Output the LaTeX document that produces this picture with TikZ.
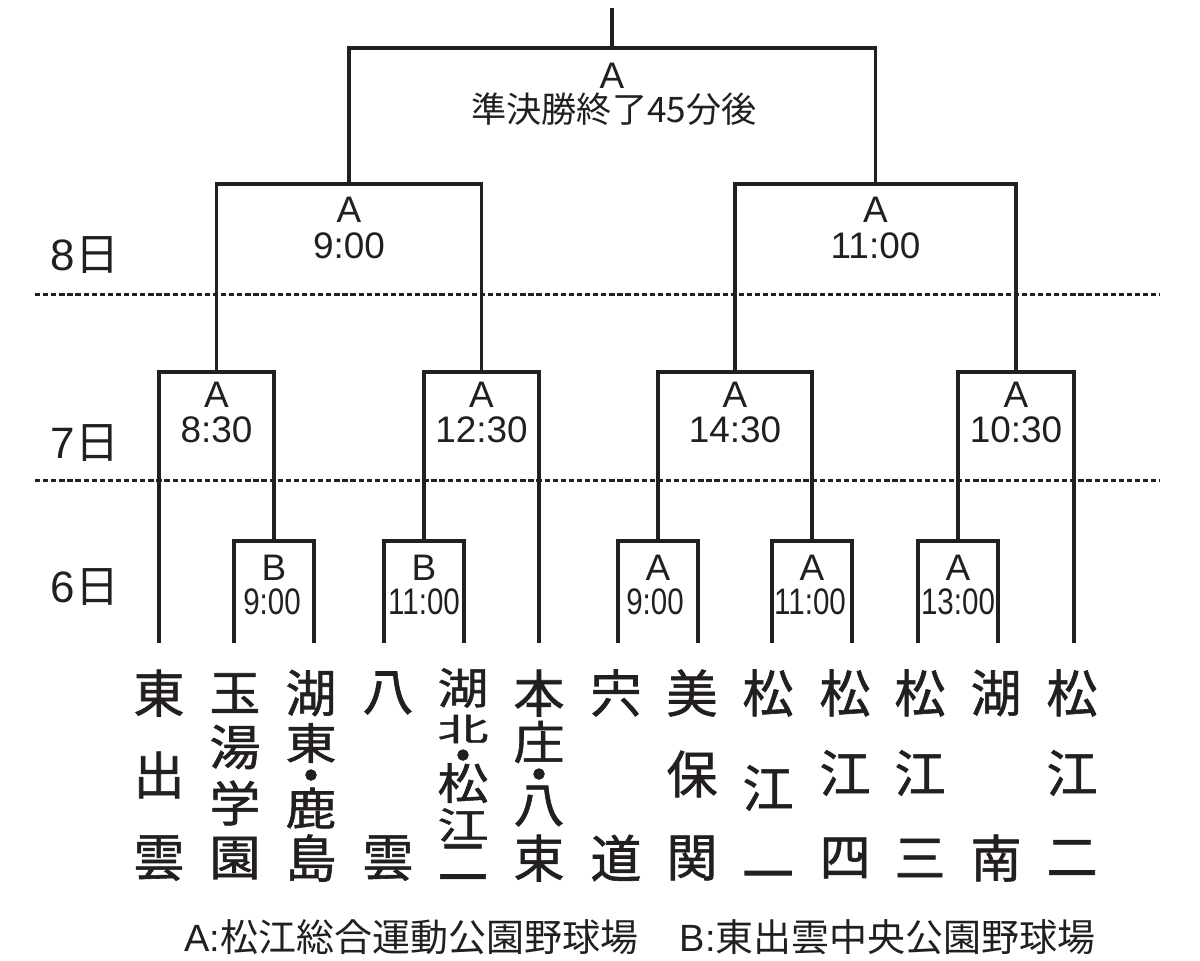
\documentclass[tikz,border=0pt]{standalone}
\usepackage{fontspec}
\setmainfont{Liberation Sans}
\newfontfamily\jp{Noto Sans CJK JP}
\newfontfamily\jpb[FakeBold=1.2]{Noto Sans CJK JP}
\usepackage{graphicx}
\usetikzlibrary{calc}
\definecolor{ink}{HTML}{231F20}

\begin{document}
\begin{tikzpicture}[x=0.01cm, y=-0.01cm, line width=0.9pt, color=ink,
  lbl/.style={anchor=base, inner sep=0pt, font=\fontsize{10.5}{10.5}\selectfont},
  team/.style={inner sep=0pt, font=\jpb\fontsize{14.5}{14.5}\selectfont},
  day/.style={inner sep=0pt, font=\fontsize{12.5}{12.5}\selectfont},
  daysep/.style={line width=0.85pt, dash pattern=on 1.5pt off 0.8pt}]
\useasboundingbox (0,0) rectangle (1200,960);
%\draw (0,0) rectangle (1200,960);

% feet of the lines
\coordinate (f1) at (159,643);
\coordinate (f2) at (234,643);
\coordinate (f3) at (314,643);
\coordinate (f4) at (384,643);
\coordinate (f5) at (464,643);
\coordinate (f6) at (539,643);
\coordinate (f7) at (618,643);
\coordinate (f8) at (698,643);
\coordinate (f9) at (772,643);
\coordinate (f10) at (852,643);
\coordinate (f11) at (918,643);
\coordinate (f12) at (998,643);
\coordinate (f13) at (1074,643);

% 6th
\coordinate (b1) at (274,541);
\coordinate (b2) at (424,541);
\coordinate (a1) at (658,541);
\coordinate (a2) at (812,541);
\coordinate (a3) at (958,541);
% 7th
\coordinate (q1) at (216.5,372);
\coordinate (q2) at (481.5,372);
\coordinate (q3) at (735,372);
\coordinate (q4) at (1016,372);
% 8th
\coordinate (s1) at (349,184);
\coordinate (s2) at (875.5,184);
\coordinate (fin) at (612,48);
\coordinate (top) at (612,8);

\draw (f2) |- (b1) -| (f3);
\draw (f4) |- (b2) -| (f5);
\draw (f7) |- (a1) -| (f8);
\draw (f9) |- (a2) -| (f10);
\draw (f11) |- (a3) -| (f12);

\draw (f1) |- (q1) -| (b1);
\draw (b2) |- (q2) -| (f6);
\draw (a1) |- (q3) -| (a2);
\draw (a3) |- (q4) -| (f13);

\draw (q1) |- (s1) -| (q2);
\draw (q3) |- (s2) -| (q4);
\draw (s1) |- (fin) -| (s2);
\draw (fin) -- (top);

\draw [daysep] (35,294) -- (1160,294);
\draw [daysep] (35,480) -- (1160,480);

\node (d8) [day] at (85,255) {8{\jp 日}};
\node (d7) [day] at (85,443) {7{\jp 日}};
\node (d6) [day] at (85,587) {6{\jp 日}};

\node (finv) [lbl] at ($(fin) + (0,40)$) {A};
\node (fint) [inner sep=0pt, font=\jp\fontsize{10}{10}\selectfont] at ($(fin) + (2,61)$) {準決勝終了45分後};

\node (s1v) [lbl] at ($(s1) + (0,38)$) {A};
\node (s1t) [lbl] at ($(s1) + (0,74)$) {9:00};
\node (s2v) [lbl] at ($(s2) + (0,38)$) {A};
\node (s2t) [lbl] at ($(s2) + (0,74)$) {11:00};

\node (q1v) [lbl] at ($(q1) + (0,35)$) {A};
\node (q1t) [lbl] at ($(q1) + (0,70)$) {8:30};
\node (q2v) [lbl] at ($(q2) + (0,35)$) {A};
\node (q2t) [lbl] at ($(q2) + (0,70)$) {12:30};
\node (q3v) [lbl] at ($(q3) + (0,35)$) {A};
\node (q3t) [lbl] at ($(q3) + (0,70)$) {14:30};
\node (q4v) [lbl] at ($(q4) + (0,35)$) {A};
\node (q4t) [lbl] at ($(q4) + (0,70)$) {10:30};

\node (b1v) [lbl] at ($(b1) + (0,39)$) {B};
\node (b1t) [lbl] at ($(b1) + (-2,73)$) {\scalebox{0.8}[1]{9:00}};
\node (b2v) [lbl] at ($(b2) + (0,39)$) {B};
\node (b2t) [lbl] at ($(b2) + (0,73)$) {\scalebox{0.8}[1]{11:00}};
\node (a1v) [lbl] at ($(a1) + (0,39)$) {A};
\node (a1t) [lbl] at ($(a1) + (-3,73)$) {\scalebox{0.8}[1]{9:00}};
\node (a2v) [lbl] at ($(a2) + (0,39)$) {A};
\node (a2t) [lbl] at ($(a2) + (-2,73)$) {\scalebox{0.8}[1]{11:00}};
\node (a3v) [lbl] at ($(a3) + (0,39)$) {A};
\node (a3t) [lbl] at ($(a3) + (0,73)$) {\scalebox{0.8}[1]{13:00}};

% teams
\foreach \c/\y/\s [count=\i] in {東/693/1, 出/775/1, 雲/858/1}
  \node (t1-\i) [team] at (159,\y) {\scalebox{1}[\s]{\c}};
\foreach \c/\y/\s [count=\i] in {玉/693/.95, 湯/747/.95, 学/803/.95, 園/858/.95}
  \node (t2-\i) [team] at (235,\y) {\scalebox{1}[\s]{\c}};
\foreach \c/\y/\s [count=\i] in {湖/693/1, 東/743/.85, ・/782/1, 鹿/808/.87, 島/858/1}
  \node (t3-\i) [team] at (311,\y) {\scalebox{1}[\s]{\c}};
\foreach \c/\y/\s [count=\i] in {八/693/1, 雲/858/1}
  \node (t4-\i) [team] at (388,\y) {\scalebox{1}[\s]{\c}};
\foreach \c/\y/\s [count=\i] in {湖/688/.85, 北/729/.62, ・/762/1, 松/783/.85, 江/825/.73, 二/862/1}
  \node (t5-\i) [team] at (463,\y) {\scalebox{1}[\s]{\c}};
\foreach \c/\y/\s [count=\i] in {本/693/1, 庄/742/.9, ・/781/1, 八/806/.95, 束/858/1}
  \node (t6-\i) [team] at (539,\y) {\scalebox{1}[\s]{\c}};
\foreach \c/\y/\s [count=\i] in {宍/693/1, 道/858/1}
  \node (t7-\i) [team] at (616,\y) {\scalebox{1}[\s]{\c}};
\foreach \c/\y/\s [count=\i] in {美/693/1, 保/774/1, 関/858/1}
  \node (t8-\i) [team] at (692,\y) {\scalebox{1}[\s]{\c}};
\foreach \c/\y/\s [count=\i] in {松/693/1, 江/788/1, 一/882/1}
  \node (t9-\i) [team] at (768,\y) {\scalebox{1}[\s]{\c}};
\foreach \c/\y/\s [count=\i] in {松/693/1, 江/773/1, 四/858/1}
  \node (t10-\i) [team] at (845,\y) {\scalebox{1}[\s]{\c}};
\foreach \c/\y/\s [count=\i] in {松/693/1, 江/773/1, 三/858/1}
  \node (t11-\i) [team] at (920,\y) {\scalebox{1}[\s]{\c}};
\foreach \c/\y/\s [count=\i] in {湖/693/1, 南/858/1}
  \node (t12-\i) [team] at (996,\y) {\scalebox{1}[\s]{\c}};
\foreach \c/\y/\s [count=\i] in {松/693/1, 江/773/1, 二/858/1}
  \node (t13-\i) [team] at (1072,\y) {\scalebox{1}[\s]{\c}};

\node (venA) [anchor=west, inner sep=0pt, font=\fontsize{10.8}{10.8}\selectfont] at (183,937) {A:{\jp 松江総合運動公園野球場}};
\node (venB) [anchor=east, inner sep=0pt, font=\fontsize{10.8}{10.8}\selectfont] at (1097,937) {B:{\jp 東出雲中央公園野球場}};

\end{tikzpicture}
\end{document}
